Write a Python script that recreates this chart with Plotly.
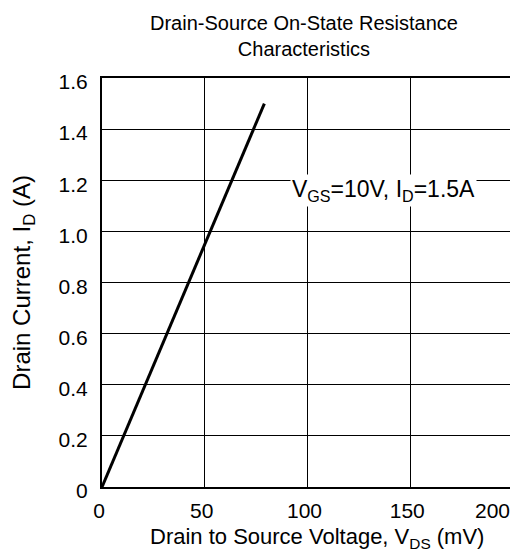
import plotly.graph_objects as go

vds_mv = [0, 79]
id_a = [0, 1.5]
x_ticks = [0, 50, 100, 150, 200]
x_tick_text = ["0", "50", "100", "150",
               "200<span style='color:rgba(0,0,0,0)'>000</span>"]
y_ticks = [0, 0.2, 0.4, 0.6, 0.8, 1.0, 1.2, 1.4, 1.6]
y_tick_text = ["0", "0.2", "0.4", "0.6", "0.8", "1.0", "1.2", "1.4", "1.6"]

font = "Liberation Sans, Arial, sans-serif"
FS = 21

fig = go.Figure()
fig.add_trace(go.Scatter(x=vds_mv, y=id_a, mode="lines",
                         line=dict(color="black", width=3), showlegend=False))

fig.update_layout(
    width=518, height=553,
    margin=dict(l=94, r=13, t=70, b=74, autoexpand=False),
    paper_bgcolor="white", plot_bgcolor="white",
    font=dict(family=font, size=FS, color="black"),
    xaxis=dict(range=[0, 200], tickvals=x_ticks, ticktext=x_tick_text,
               showgrid=True, automargin=False, ticklabeloverflow="allow",
               gridcolor="black", gridwidth=1, showline=True, linecolor="black",
               linewidth=2, mirror=True, ticks="", zeroline=False,
               tickfont=dict(size=FS), ticklabelstandoff=4, ticklabelshift=-3),
    yaxis=dict(range=[0, 1.6], tickvals=y_ticks, ticktext=y_tick_text,
               showgrid=True, automargin=False, gridcolor="black", gridwidth=1,
               showline=True, linecolor="black", linewidth=2, mirror=True,
               ticks="", zeroline=False,
               title=dict(text="Drain Current, I<sub>D</sub> (A)", standoff=22,
                          font=dict(size=24)),
               tickfont=dict(size=FS), ticklabelshift=4, ticklabelstandoff=8),
    annotations=[
        dict(x=137, y=1.16, xref="x", yref="y",
             text="V<sub>GS</sub>=10V, I<sub>D</sub>=1.5A",
             showarrow=False, bgcolor="white", font=dict(size=23), borderpad=1),
        dict(x=0.5, y=1, xref="paper", yref="paper", xanchor="center",
             yanchor="bottom", yshift=16, xshift=-4, showarrow=False,
             text="Drain-Source On-State Resistance<br>Characteristics",
             font=dict(size=20)),
        dict(x=0.5, y=0, xref="paper", yref="paper", xanchor="center",
             yanchor="top", yshift=-35, xshift=9, showarrow=False,
             text="Drain to Source Voltage, V<sub>DS</sub> (mV)",
             font=dict(size=22)),
    ],
)

fig.write_html("out.html")
